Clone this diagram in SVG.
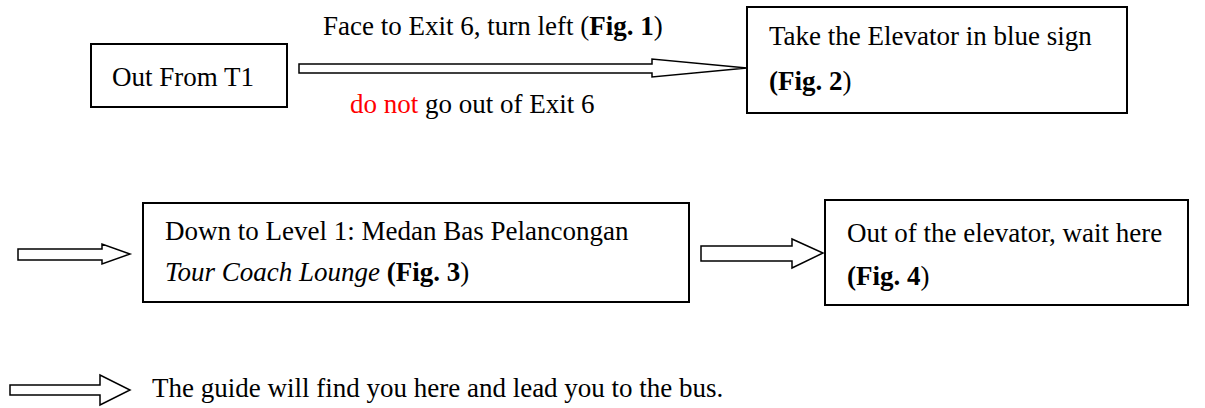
<svg xmlns="http://www.w3.org/2000/svg" width="1205" height="408" viewBox="0 0 1205 408">
<style>
text{font-family:"Liberation Serif","Times New Roman",serif;font-size:27px;fill:#000}
.box{fill:#fff;stroke:#000;stroke-width:2}
.arr{fill:#fff;stroke:#000;stroke-width:1.5;stroke-linejoin:miter}
.b{font-weight:bold}
.n{font-weight:normal}
.i{font-style:italic}
.red{fill:#ff0000}
</style>
<rect width="1205" height="408" fill="#fff"/>
<g id="connectors">
<polygon class="arr" points="299,64 652,64 652,59 747,68 652,77 652,73 299,73"/>
<polygon class="arr" points="18,249 102,249 102,244 130,254 102,264 102,260 18,260"/>
<polygon class="arr" points="701,246 792,246 792,239 823,253 792,268 792,261 701,261"/>
<polygon class="arr" points="10,385 100,385 100,375 130,390 100,405 100,395 10,395"/>
</g>
<g id="label-face">
<text x="323" y="35">Face to Exit 6, turn left (<tspan class="b">Fig. 1</tspan>)</text>
</g>
<g id="label-donot">
<text x="350" y="113"><tspan class="red">do not</tspan> go out of Exit 6</text>
</g>
<g id="node-t1">
<rect class="box" x="91" y="44" width="196" height="63"/>
<text x="112" y="86">Out From T1</text>
</g>
<g id="node-elevator">
<rect class="box" x="747" y="7" width="380" height="106"/>
<text x="769" y="45">Take the Elevator in blue sign</text>
<text x="769" y="90" class="b">(Fig. 2<tspan class="n">)</tspan></text>
</g>
<g id="node-level1">
<rect class="box" x="143" y="203" width="546" height="99"/>
<text x="165" y="240">Down to Level 1: Medan Bas Pelancongan</text>
<text x="165" y="281"><tspan class="i">Tour Coach Lounge</tspan> <tspan class="b">(Fig. 3</tspan>)</text>
</g>
<g id="node-wait">
<rect class="box" x="825" y="200" width="363" height="105"/>
<text x="847" y="242">Out of the elevator, wait here</text>
<text x="847" y="285" class="b">(Fig. 4<tspan class="n">)</tspan></text>
</g>
<g id="label-guide">
<text x="152" y="397">The guide will find you here and lead you to the bus.</text>
</g>
</svg>
